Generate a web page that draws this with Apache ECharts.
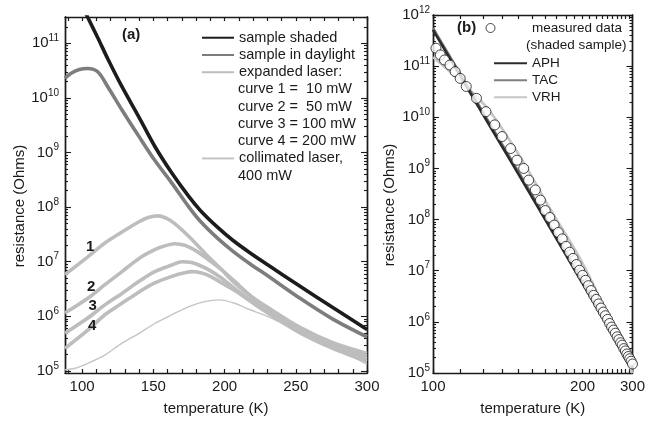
<!DOCTYPE html>
<html>
<head>
<meta charset="utf-8">
<script src="https://cdn.jsdelivr.net/npm/echarts@6/dist/echarts.min.js"></script>
<style>
  html, body { margin: 0; padding: 0; background: #fff; }
  #chart { width: 648px; height: 427px; }
</style>
</head>
<body>
<div id="chart"></div>
<script>
// ===== panel (a): resistance vs temperature =====
const shadedT = [100, 104, 111, 118, 128, 140, 151, 163, 175, 183, 195, 206, 218, 230, 253, 276, 300];
const shadedR = [4.8e11, 2.95e11, 1.26e11, 5.2e10, 1.6e10, 4.4e9, 1.3e9, 4.2e8, 1.55e8, 8.7e7, 4.3e7, 2.45e7, 1.45e7, 8.9e6, 3.55e6, 1.45e6, 5.75e5];

const daylightT = [88, 92, 98, 104, 111, 118, 128, 140, 151, 163, 175, 183, 195, 206, 218, 230, 253, 276, 300];
const daylightR = [2.3e10, 2.8e10, 3.3e10, 3.45e10, 3.0e10, 1.6e10, 6.0e9, 1.95e9, 7.2e8, 2.75e8, 1.0e8, 5.5e7, 2.7e7, 1.55e7, 9.1e6, 5.6e6, 2.14e6, 8.9e5, 4.2e5];

const laser1T = [88, 104, 116, 128, 140, 147, 153, 159, 165, 175, 186, 198, 207, 218, 230, 253, 276, 300];
const laser1R = [5.8e6, 1.23e7, 2.2e7, 3.5e7, 5.4e7, 6.5e7, 6.9e7, 6.3e7, 5.0e7, 2.9e7, 1.45e7, 7.1e6, 4.1e6, 2.4e6, 1.48e6, 6.3e5, 3.3e5, 2.1e5];

const laser2T = [88, 104, 116, 128, 140, 151, 158, 165, 172, 180, 186, 198, 207, 218, 230, 253, 276, 300];
const laser2R = [1.15e6, 2.14e6, 3.8e6, 6.6e6, 1.15e7, 1.66e7, 1.95e7, 2.14e7, 2.0e7, 1.58e7, 1.23e7, 7.1e6, 4.4e6, 2.4e6, 1.35e6, 5.75e5, 3.0e5, 1.86e5];

const laser3T = [88, 104, 116, 128, 140, 151, 163, 170, 176, 181, 189, 198, 207, 218, 230, 253, 276, 300];
const laser3R = [4.9e5, 9.3e5, 1.62e6, 2.63e6, 4.37e6, 6.6e6, 8.7e6, 1.0e7, 9.8e6, 8.9e6, 7.1e6, 5.0e6, 3.24e6, 2.0e6, 1.26e6, 5.4e5, 2.8e5, 1.66e5];

const laser4T = [88, 104, 116, 128, 140, 151, 163, 172, 178, 184, 190, 198, 207, 218, 230, 253, 276, 300];
const laser4R = [2.6e5, 5.6e5, 1.07e6, 1.74e6, 2.8e6, 4.1e6, 5.4e6, 6.3e6, 6.6e6, 6.2e6, 5.4e6, 4.1e6, 3.0e6, 1.9e6, 1.17e6, 5.0e5, 2.6e5, 1.5e5];

const collimatedT = [88, 95, 104, 116, 128, 140, 151, 163, 175, 186, 196, 207, 218, 230, 253, 276, 300];
const collimatedR = [1.05e5, 1.12e5, 1.38e5, 1.95e5, 3.24e5, 4.9e5, 7.4e5, 1.07e6, 1.51e6, 1.86e6, 2.0e6, 1.74e6, 1.32e6, 1.0e6, 5.2e5, 2.75e5, 1.32e5];

// ===== panel (b): measured data + fits, x axis is 1/T =====
const measuredT = [101, 102.5, 104, 106, 108, 110, 112.5, 117, 121.5, 126, 130, 135, 139, 143.5, 147, 152, 156, 160, 164,
  168, 172, 176, 180, 184, 188, 192, 196, 200, 204, 208, 212, 216, 220, 224, 228, 232, 236, 240, 244, 248, 252, 256,
  260, 264, 268, 272, 276, 280, 284, 288, 292, 296, 300];
const measuredR = [2.24e11, 1.66e11, 1.32e11, 1.05e11, 7.8e10, 5.75e10, 4.0e10, 2.35e10, 1.29e10, 7.1e9, 4.2e9, 2.45e9, 1.45e9,
  1.0e9, 5.9e8, 3.8e8, 2.4e8, 1.5e8, 1.1e8, 7.8e7, 5.6e7, 4.2e7, 3.0e7, 2.3e7, 1.74e7, 1.32e7, 1.02e7, 8.1e6, 6.5e6,
  5.1e6, 4.1e6, 3.3e6, 2.75e6, 2.24e6, 1.86e6, 1.55e6, 1.32e6, 1.12e6, 9.3e5, 7.9e5, 6.9e5, 6.0e5, 5.1e5, 4.5e5, 3.9e5,
  3.5e5, 3.0e5, 2.7e5, 2.35e5, 2.1e5, 1.9e5, 1.7e5, 1.5e5];

const fitT = [100, 125, 150, 200, 250, 300];
const aphR = [5.1e11, 5.4e9, 2.6e8, 5.6e6, 5.75e5, 1.26e5];
const tacR = [5.5e11, 6.0e9, 2.9e8, 6.5e6, 6.8e5, 1.5e5];
const vrhT = [100, 112.5, 123, 142.5, 163, 200, 250, 300];
const vrhR = [1.5e11, 4.0e10, 1.38e10, 1.45e9, 1.8e8, 1.4e7, 8.3e5, 1.0e5];

// ===== ticks / labels =====
const xTicksA = [90, 100, 110, 120, 130, 140, 150, 160, 170, 180, 190, 200, 210, 220, 230, 240, 250, 260, 270, 280, 290, 300];
const xLabelsA = [100, 150, 200, 250, 300];
const xTicksB = [100, 110, 120, 130, 140, 150, 160, 170, 180, 190, 200, 210, 220, 230, 240, 250, 260, 270, 280, 290, 300];
const xLabelsB = [100, 200, 300];
const decadesA = [5, 6, 7, 8, 9, 10, 11];
const decadesB = [5, 6, 7, 8, 9, 10, 11, 12];
const minorSteps = [2, 3, 4, 5, 6, 7, 8, 9];

const FONT = "'Liberation Sans', Arial, sans-serif";
const INK = '#1a1a1a';
const yMinA = 4.963, yMaxA = 11.48;
const yMinB = 5, yMaxB = 12;

const minorA = [];
const minorB = [];
for (let n = 4; n <= 12; n++) {
  minorSteps.forEach((k) => {
    const v = n + Math.log10(k);
    if (v > yMinA && v < yMaxA) minorA.push(v);
    if (v > yMinB && v < yMaxB) minorB.push(v);
  });
}

const toPts = (ts, rs) => ts.map((t, i) => [t, Math.log10(rs[i])]);
const toInvPts = (ts, rs) => ts.map((t, i) => [1 / t, Math.log10(rs[i])]);

const axisLine = { show: true, onZero: false, lineStyle: { color: INK, width: 1.4 } };
const nameStyle = { fontSize: 15, color: INK, fontFamily: FONT };
const supLabel = (v) => '{b|10}{s|' + Math.round(v) + '}';
const supRich = {
  b: { fontSize: 15, lineHeight: 20, color: INK, fontFamily: FONT },
  s: { fontSize: 10, lineHeight: 8, verticalAlign: 'top', color: INK, fontFamily: FONT }
};

function xAxis(grid, pos, min, max, ticks, extra) {
  return Object.assign({
    gridIndex: grid, type: 'value', position: pos, min: min, max: max,
    axisLine: axisLine, splitLine: { show: false },
    axisTick: { inside: true, length: 4, customValues: ticks, lineStyle: { color: INK, width: 1.2 } },
    axisLabel: { show: false }
  }, extra || {});
}

function yAxis(grid, pos, min, max, ticks, len, extra) {
  return Object.assign({
    gridIndex: grid, type: 'value', position: pos, min: min, max: max,
    axisLine: axisLine, splitLine: { show: false },
    axisTick: { inside: true, length: len, customValues: ticks, lineStyle: { color: INK, width: 1.1 } },
    axisLabel: { show: false }
  }, extra || {});
}

const xLabelStyle = { margin: 6, fontSize: 15, color: INK, fontFamily: FONT };

const xAxes = [
  xAxis(0, 'bottom', 88, 300, xTicksA, {
    axisLabel: Object.assign({ customValues: xLabelsA }, xLabelStyle),
    name: 'temperature (K)', nameLocation: 'middle', nameGap: 28, nameTextStyle: nameStyle
  }),
  xAxis(0, 'top', 88, 300, xTicksA),
  xAxis(1, 'bottom', 1 / 300, 1 / 100, xTicksB.map((t) => 1 / t), {
    inverse: true,
    axisLabel: Object.assign({
      customValues: xLabelsB.map((t) => 1 / t),
      formatter: (v) => String(Math.round(1 / v))
    }, xLabelStyle),
    name: 'temperature (K)', nameLocation: 'middle', nameGap: 28, nameTextStyle: nameStyle
  }),
  xAxis(1, 'top', 1 / 300, 1 / 100, xTicksB.map((t) => 1 / t), { inverse: true })
];

const yName = {
  name: 'resistance (Ohms)', nameLocation: 'middle',
  nameTextStyle: Object.assign({ padding: [0, 22, 0, 0] }, nameStyle)
};

const yAxes = [
  yAxis(0, 'left', yMinA, yMaxA, decadesA, 6, Object.assign({
    axisLabel: { customValues: decadesA, formatter: supLabel, rich: supRich, margin: 6 },
    nameGap: 38
  }, yName)),
  yAxis(0, 'left', yMinA, yMaxA, minorA, 3),
  yAxis(0, 'right', yMinA, yMaxA, decadesA, 6),
  yAxis(0, 'right', yMinA, yMaxA, minorA, 3),
  yAxis(1, 'left', yMinB, yMaxB, decadesB, 6, Object.assign({
    axisLabel: { customValues: decadesB, formatter: supLabel, rich: supRich, margin: 3 },
    nameGap: 36
  }, yName)),
  yAxis(1, 'left', yMinB, yMaxB, minorB, 3),
  yAxis(1, 'right', yMinB, yMaxB, decadesB, 6),
  yAxis(1, 'right', yMinB, yMaxB, minorB, 3)
];

function curve(name, ts, rs, color, width) {
  return {
    name: name, type: 'line', xAxisIndex: 0, yAxisIndex: 0,
    data: toPts(ts, rs), symbol: 'none', smooth: 0.3, clip: true,
    lineStyle: { color: color, width: width }, itemStyle: { color: color }
  };
}

function fit(name, ts, rs, color) {
  return {
    name: name, type: 'line', xAxisIndex: 2, yAxisIndex: 4,
    data: toInvPts(ts, rs), symbol: 'none', smooth: 0.3, clip: true,
    lineStyle: { color: color, width: 2.6 }, itemStyle: { color: color }
  };
}

const LIGHT = '#bdbdbd';

const series = [
  curve('collimated laser,', collimatedT, collimatedR, '#c4c4c4', 1.4),
  curve('expanded laser:', laser4T, laser4R, LIGHT, 3.6),
  curve('expanded laser:', laser3T, laser3R, LIGHT, 3.6),
  curve('expanded laser:', laser2T, laser2R, LIGHT, 3.6),
  curve('expanded laser:', laser1T, laser1R, LIGHT, 3.6),
  curve('sample in daylight', daylightT, daylightR, '#7d7d7d', 3.6),
  curve('sample shaded', shadedT, shadedR, '#1c1c1c', 3.6),
  fit('VRH', vrhT, vrhR, '#c6c6c6'),
  fit('TAC', fitT, tacR, '#808080'),
  fit('APH', fitT, aphR, '#2b2b2b'),
  {
    name: 'measured data', type: 'scatter', xAxisIndex: 2, yAxisIndex: 4,
    data: toInvPts(measuredT, measuredR), symbol: 'circle', symbolSize: 10, z: 5,
    itemStyle: { color: '#fff', borderColor: INK, borderWidth: 1 }
  }
];

const legendText = { fontSize: 14.5, color: INK, fontFamily: FONT, lineHeight: 17.25 };
const legendTextB = { fontSize: 13.5, color: INK, fontFamily: FONT, lineHeight: 17 };
const lineLegend = { orient: 'vertical', padding: 0, itemGap: 0, itemHeight: 10, itemStyle: { opacity: 0 } };

const legends = [
  Object.assign({ data: ['sample shaded', 'sample in daylight', 'expanded laser:'], left: 201, top: 29.1, itemWidth: 32, textStyle: legendText }, lineLegend),
  Object.assign({ data: ['collimated laser,'], left: 201, top: 149.8, itemWidth: 32, textStyle: legendText }, lineLegend),
  { data: ['measured data'], orient: 'vertical', padding: 0,
    left: 485.5, top: 19.5, itemWidth: 9, itemHeight: 9, itemGap: 0,
    itemStyle: { color: '#fff', borderColor: INK, borderWidth: 1 },
    textStyle: Object.assign({ padding: [0, 0, 0, 32] }, legendTextB) },
  Object.assign({ data: ['APH', 'TAC', 'VRH'], left: 493, top: 54.8, itemWidth: 33, textStyle: legendTextB }, lineLegend)
];

function label(text, x, y, font) {
  return {
    type: 'text', x: x, y: y, z: 10,
    style: { text: text, fill: INK, verticalAlign: 'middle', font: font + ' ' + FONT }
  };
}

const BOLD = 'bold 15px';
const LEG = '14.5px';

const graphics = [
  label('(a)', 122, 35, BOLD),
  label('(b)', 457, 28, BOLD),
  label('1', 86, 247, BOLD),
  label('2', 87, 287, BOLD),
  label('3', 88.5, 306, BOLD),
  label('4', 88, 326, BOLD),
  label('curve 1 =  10 mW', 238, 89.4, LEG),
  label('curve 2 =  50 mW', 238, 106.7, LEG),
  label('curve 3 = 100 mW', 238, 123.9, LEG),
  label('curve 4 = 200 mW', 238, 141.2, LEG),
  label('400 mW', 238, 175.7, LEG),
  label('(shaded sample)', 526, 45, '13.5px')
];

const chart = echarts.init(document.getElementById('chart'));
chart.setOption({
  animation: false,
  backgroundColor: '#fff',
  grid: [
    { left: 65, top: 17, width: 302, height: 356 },
    { left: 433, top: 15, width: 202, height: 358 }
  ],
  xAxis: xAxes,
  yAxis: yAxes,
  legend: legends,
  graphic: graphics,
  series: series
});
</script>
</body>
</html>
